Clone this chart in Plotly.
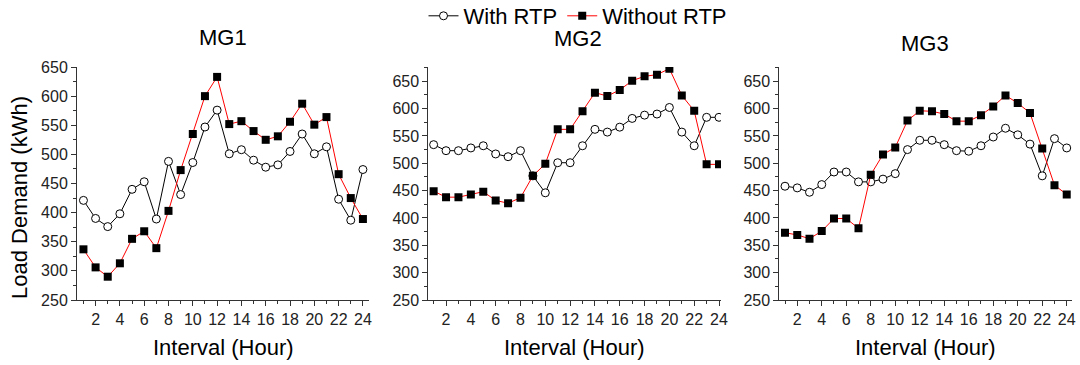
import plotly.graph_objects as go

hours = list(range(1, 25))
x_ticks = list(range(2, 25, 2))

mg1_with = [421, 390, 376, 398, 440, 453, 389, 488, 431, 486, 547, 576,
            501, 508, 490, 478, 482, 505, 535, 501, 513, 423, 387, 474]
mg1_without = [337, 306, 290, 313, 355, 368, 339, 403, 473, 535, 600, 633,
               552, 557, 540, 525, 531, 556, 587, 551, 564, 466, 425, 389]

mg2_with = [534, 523, 523, 528, 532, 517, 512, 523, 477, 446, 501, 501,
            532, 562, 557, 566, 582, 588, 590, 602, 557, 532, 584, 584]
mg2_without = [449, 438, 438, 443, 448, 432, 427, 437, 477, 499, 562, 562,
               595, 629, 623, 634, 651, 659, 662, 673, 624, 596, 498, 498]

mg3_with = [458, 455, 447, 461, 484, 484, 466, 466, 471, 481, 525, 542,
            542, 534, 523, 522, 532, 548, 564, 552, 535, 477, 545, 528]
mg3_without = [373, 369, 362, 376, 399, 399, 381, 479, 516, 529, 578, 596,
               595, 590, 577, 577, 588, 604, 624, 610, 592, 527, 460, 443]

panels = [("MG1", mg1_with, mg1_without), ("MG2", mg2_with, mg2_without),
          ("MG3", mg3_with, mg3_without)]

W, H = 1080, 365


def px(x):
    return x / W


def py(y):
    return 1 - y / H


x_domains = [(px(77), px(369)), (px(428.3), px(721)), (px(779.3), px(1072))]
x_ranges = [(0.47, 24.5), (0.57, 24.16), (0.535, 24.43)]
y_ranges = [(250, 650), (250, 676), (250, 676)]
y_dom = (py(300), py(67))
title_pos = [(223, 37), (578, 38), (925, 44)]

FONT = "Liberation Sans, Arial, sans-serif"
fig = go.Figure()

for i, (name, w, wo) in enumerate(panels):
    sfx = "" if i == 0 else str(i + 1)
    fig.add_trace(go.Scatter(
        x=hours, y=w, mode="lines+markers", name="With RTP",
        line=dict(color="black", width=1),
        marker=dict(symbol="circle", size=8, color="white",
                    line=dict(color="black", width=1)),
        xaxis="x" + sfx, yaxis="y" + sfx, showlegend=(i == 0)))
    fig.add_trace(go.Scatter(
        x=hours, y=wo, mode="lines+markers", name="Without RTP",
        line=dict(color="#ff0000", width=1),
        marker=dict(symbol="square", size=8, color="black",
                    line=dict(color="black", width=0)),
        xaxis="x" + sfx, yaxis="y" + sfx, showlegend=(i == 0)))

    axis_common = dict(showline=True, linecolor="#333", linewidth=1,
                       ticks="outside", ticklen=5, tickcolor="#333",
                       showgrid=False, zeroline=False,
                       tickfont=dict(family=FONT, size=16, color="#222"))
    fig.update_layout(**{
        "xaxis" + sfx: dict(domain=list(x_domains[i]), range=list(x_ranges[i]),
                            tickmode="array", tickvals=x_ticks,
                            minor=dict(ticks="outside", ticklen=3, dtick=1,
                                       tick0=1, tickcolor="#333"),
                            anchor="y" + sfx, **axis_common),
        "yaxis" + sfx: dict(domain=list(y_dom), range=list(y_ranges[i]),
                            dtick=50, tick0=250,
                            minor=dict(ticks="outside", ticklen=3, dtick=25,
                                       tick0=250, tickcolor="#333"),
                            anchor="x" + sfx, **axis_common),
    })
    tx, ty = title_pos[i]
    fig.add_annotation(text=name, x=px(tx), y=py(ty), xref="paper",
                       yref="paper", showarrow=False, xanchor="center",
                       yanchor="middle",
                       font=dict(family=FONT, size=22, color="black"))
    cx = (x_domains[i][0] + x_domains[i][1]) / 2
    fig.add_annotation(text="Interval (Hour)", x=cx, y=py(347),
                       xref="paper", yref="paper", showarrow=False,
                       xanchor="center", yanchor="middle",
                       font=dict(family=FONT, size=22, color="black"))

fig.add_annotation(text="Load Demand (kWh)", x=px(19), y=py(198),
                   xref="paper", yref="paper", showarrow=False, textangle=-90,
                   xanchor="center", yanchor="middle",
                   font=dict(family=FONT, size=22, color="black"))

fig.update_layout(
    width=W, height=H,
    margin=dict(l=0, r=0, t=0, b=0, autoexpand=False),
    paper_bgcolor="white", plot_bgcolor="white",
    legend=dict(orientation="h", x=px(578), y=py(16), xanchor="center",
                yanchor="middle", font=dict(family=FONT, size=22, color="black"),
                bgcolor="rgba(0,0,0,0)", tracegroupgap=0),
)

fig.write_html("out.html",
               config={"displayModeBar": False},
               post_script="document.body.style.margin='0px';"
                           "document.body.style.padding='0px';")
